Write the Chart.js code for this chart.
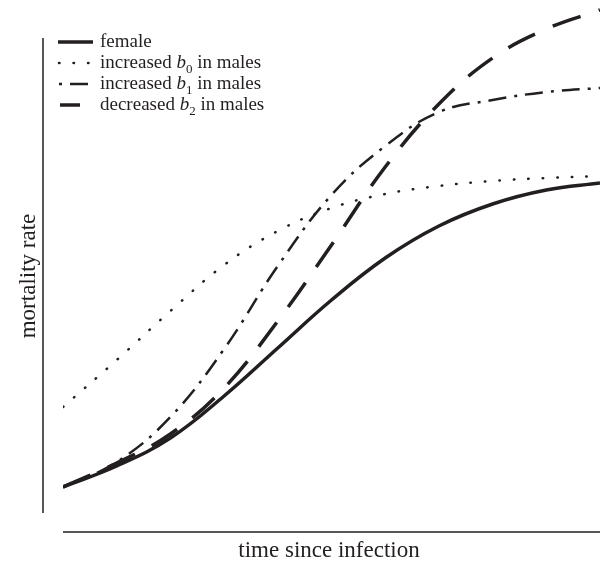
<!DOCTYPE html>
<html>
<head>
<meta charset="utf-8">
<title>mortality rate vs time since infection</title>
<script src="https://cdn.jsdelivr.net/npm/chart.js@4.4.1/dist/chart.umd.min.js"></script>
<style>
  html, body { margin: 0; padding: 0; background: #fff; }
  #wrap { width: 604px; height: 562px; }
</style>
</head>
<body>
<div id="wrap"><canvas id="chart" width="604" height="562"></canvas></div>
<script>
// time since infection (arbitrary units, no ticks in the figure)
const timePoints = [0, 10, 20, 30, 40, 50, 60, 70, 80, 90, 100];

// mortality rate (arbitrary units)
const female      = [5.2, 9.4, 15.0, 23.4, 33.0, 42.6, 51.0, 57.4, 61.8, 64.6, 66.0];
const incB0Males  = [21.2, 30.6, 40.4, 49.6, 56.4, 61.0, 63.8, 65.4, 66.4, 67.0, 67.4];
const incB1Males  = [5.2, 10.2, 19.2, 32.8, 49.4, 63.6, 73.4, 80.2, 82.6, 84.2, 85.0];
const decB2Males  = [5.2, 10.0, 15.8, 25.0, 38.4, 53.6, 69.2, 81.8, 91.0, 96.8, 100.6];

const INK = '#231f20';
const SERIF = '"Liberation Serif", "Times New Roman", serif';

function toXY(values) {
    return timePoints.map((t, i) => ({ x: t, y: values[i] }));
}

// legend rows: label parts, with subscript index for b
const legendRows = [
    { text: 'female', sub: null, width: 3.5, dash: [], cap: 'butt', x0: 58, x1: 93, offset: 0 },
    { text: 'increased ', sub: '0', width: 2.5, dash: [0.5, 14], cap: 'round', x0: 59, x1: 90, offset: 0 },
    { text: 'increased ', sub: '1', width: 2.5, dash: [18, 8, 3, 8], cap: 'butt', x0: 59, x1: 93, offset: 26 },
    { text: 'decreased ', sub: '2', width: 3.5, dash: [], cap: 'butt', x0: 60, x1: 80, offset: 0 }
];

// ============================================
// AXIS LINES, TITLES AND LEGEND
// ============================================
const decorPlugin = {
    id: 'decor',
    afterDraw(chart) {
        const ctx = chart.ctx;
        const area = chart.chartArea;
        ctx.save();
        ctx.strokeStyle = INK;
        ctx.fillStyle = INK;

        // detached axis lines
        ctx.lineWidth = 1.5;
        ctx.beginPath();
        ctx.moveTo(43, 38);
        ctx.lineTo(43, area.bottom);
        ctx.moveTo(area.left, 532);
        ctx.lineTo(area.right, 532);
        ctx.stroke();

        // axis titles
        ctx.font = '23px ' + SERIF;
        ctx.textAlign = 'center';
        ctx.textBaseline = 'alphabetic';
        ctx.fillText('time since infection', 329, 557);

        ctx.save();
        ctx.translate(35, 276);
        ctx.rotate(-Math.PI / 2);
        ctx.fillText('mortality rate', 0, 0);
        ctx.restore();

        // legend
        legendRows.forEach((row, i) => {
            const base = 47 + i * 21;
            const ly = base - 5;
            ctx.lineWidth = row.width;
            ctx.lineCap = row.cap;
            ctx.setLineDash(row.dash);
            ctx.lineDashOffset = row.offset;
            ctx.beginPath();
            ctx.moveTo(row.x0, ly);
            ctx.lineTo(row.x1, ly);
            ctx.stroke();
            ctx.setLineDash([]);

            let x = 100;
            ctx.textAlign = 'left';
            ctx.font = '19px ' + SERIF;
            ctx.fillText(row.text, x, base);
            x += ctx.measureText(row.text).width;
            if (row.sub !== null) {
                ctx.font = 'italic 19px ' + SERIF;
                ctx.fillText('b', x, base);
                x += ctx.measureText('b').width;
                ctx.font = '13px ' + SERIF;
                ctx.fillText(row.sub, x, base + 5);
                x += ctx.measureText(row.sub).width;
                ctx.font = '19px ' + SERIF;
                ctx.fillText(' in males', x, base);
            }
        });
        ctx.restore();
    }
};

const common = {
    pointRadius: 0,
    fill: false,
    borderColor: INK,
    tension: 0.4
};

new Chart(document.getElementById('chart'), {
    type: 'line',
    data: {
        datasets: [
            { ...common, label: 'increased b0 in males', data: toXY(incB0Males),
              borderWidth: 2.5, borderDash: [0.5, 14], borderCapStyle: 'round' },
            { ...common, label: 'increased b1 in males', data: toXY(incB1Males),
              borderWidth: 2.5, borderDash: [18, 8, 3, 8] },
            { ...common, label: 'decreased b2 in males', data: toXY(decB2Males),
              borderWidth: 3.5, borderDash: [30, 19] },
            { ...common, label: 'female', data: toXY(female),
              borderWidth: 3.5 }
        ]
    },
    options: {
        responsive: false,
        animation: false,
        layout: { padding: { left: 63, right: 4, top: 3, bottom: 49 } },
        plugins: { legend: { display: false }, tooltip: { enabled: false } },
        scales: {
            x: { type: 'linear', min: 0, max: 100, display: false },
            y: { min: 0, max: 102, display: false }
        }
    },
    plugins: [decorPlugin]
});
</script>
</body>
</html>
